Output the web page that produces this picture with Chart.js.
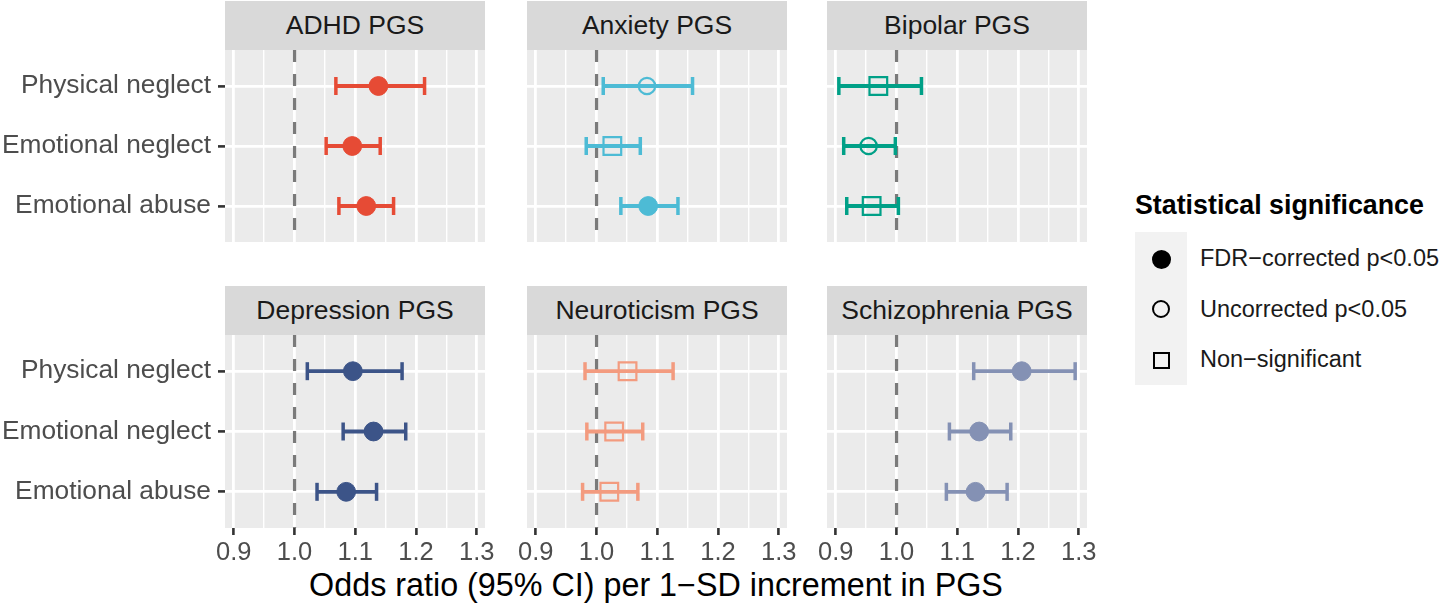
<!DOCTYPE html>
<html>
<head>
<meta charset="utf-8">
<script src="https://cdn.jsdelivr.net/npm/chart.js@4.4.0/dist/chart.umd.min.js"></script>
<style>
  body { margin: 0; background: #fff; font-family: "Liberation Sans", Arial, sans-serif; }
  #page { position: relative; width: 1456px; height: 614px; overflow: hidden; background: #fff; }
  #page canvas { position: absolute; }
  .strip { position: absolute; height: 49px; line-height: 49px; background: #D9D9D9; color: #1A1A1A;
           font-size: 26.5px; text-align: center; white-space: nowrap; }
  .xtitle { position: absolute; left: 225px; width: 862px; top: 567px; line-height: 36px; font-size: 32.3px;
            color: #000; text-align: center; white-space: nowrap; }
  .legtitle { position: absolute; left: 1135px; top: 189px; line-height: 32px; font-size: 26.8px;
              font-weight: bold; color: #000; white-space: nowrap; }
  .legkeys { position: absolute; left: 1135px; top: 232px; width: 52px; height: 153px; background: #F2F2F2; }
  .sym { position: absolute; box-sizing: border-box; border: 2px solid #000; }
  .leglab { position: absolute; left: 1200px; line-height: 28px; font-size: 23.5px; color: #1A1A1A; white-space: nowrap; }
</style>
</head>
<body>
<div id="page">
  <div class="xtitle">Odds ratio (95% CI) per 1−SD increment in PGS</div>
  <div class="legtitle">Statistical significance</div>
  <div class="legkeys"></div>
  <div class="sym" style="left:1151.5px; top:249.5px; width:19px; height:19px; border-radius:50%; background:#000;"></div>
  <div class="sym" style="left:1152px; top:300px; width:18px; height:18px; border-radius:50%;"></div>
  <div class="sym" style="left:1152.5px; top:351.5px; width:17px; height:17px;"></div>
  <div class="leglab" style="top:244px;">FDR−corrected p&lt;0.05</div>
  <div class="leglab" style="top:295px;">Uncorrected p&lt;0.05</div>
  <div class="leglab" style="top:345px;">Non−significant</div>
</div>
<script>
// rows (top to bottom) and axis ticks
var conditions = ['Physical neglect', 'Emotional neglect', 'Emotional abuse'];
var xTicks = [0.9, 0.95, 1.0, 1.05, 1.1, 1.15, 1.2, 1.25, 1.3];
var xMajor = [0.9, 1.0, 1.1, 1.2, 1.3];
var xMin = 0.8855, xMax = 1.3135;
var refLine = 1.0;

// one set of arrays per PGS panel: odds ratio, CI bounds, significance
var adhdOR = [1.138, 1.095, 1.118];
var adhdLow = [1.068, 1.052, 1.073];
var adhdHigh = [1.214, 1.141, 1.163];
var adhdSig = ['FDR', 'FDR', 'FDR'];

var anxietyOR = [1.083, 1.026, 1.085];
var anxietyLow = [1.011, 0.983, 1.040];
var anxietyHigh = [1.158, 1.072, 1.134];
var anxietySig = ['UNC', 'NS', 'FDR'];

var bipolarOR = [0.970, 0.954, 0.959];
var bipolarLow = [0.905, 0.913, 0.918];
var bipolarHigh = [1.041, 0.998, 1.003];
var bipolarSig = ['NS', 'UNC', 'NS'];

var depressionOR = [1.096, 1.130, 1.085];
var depressionLow = [1.021, 1.080, 1.037];
var depressionHigh = [1.177, 1.183, 1.135];
var depressionSig = ['FDR', 'FDR', 'FDR'];

var neuroticismOR = [1.051, 1.029, 1.021];
var neuroticismLow = [0.981, 0.984, 0.977];
var neuroticismHigh = [1.126, 1.076, 1.068];
var neuroticismSig = ['NS', 'NS', 'NS'];

var schizOR = [1.206, 1.136, 1.130];
var schizLow = [1.127, 1.087, 1.082];
var schizHigh = [1.294, 1.188, 1.182];
var schizSig = ['FDR', 'FDR', 'FDR'];

Chart.defaults.font.family = '"Liberation Sans", Arial, sans-serif';

var colLefts = [225, 527, 827];
var rowTops = [50, 335];
var rowHeights = [192, 193];
var stripTops = [1, 286];
var panelWidth = 260;

var sigStyle = {
  FDR: { shape: 'circle', radius: 9.4, hollow: false, border: 1 },
  UNC: { shape: 'circle', radius: 8.2, hollow: true, border: 2.2 },
  NS: { shape: 'rect', radius: 12.5, hollow: true, border: 2.2 }
};

function isMajor(v) {
  return xMajor.some(function (m) { return Math.abs(m - v) < 1e-6; });
}

var panelBg = {
  id: 'panelBg',
  beforeDraw: function (chart) {
    var a = chart.chartArea;
    var ctx = chart.ctx;
    ctx.save();
    ctx.fillStyle = '#EBEBEB';
    ctx.fillRect(a.left, a.top, a.right - a.left, a.bottom - a.top);
    ctx.restore();
  }
};

function addStrip(title, col, row) {
  var div = document.createElement('div');
  div.className = 'strip';
  div.style.left = colLefts[col] + 'px';
  div.style.top = stripTops[row] + 'px';
  div.style.width = panelWidth + 'px';
  div.textContent = title;
  document.getElementById('page').appendChild(div);
}

function drawPanel(title, color, or, low, high, sig, col, row) {
  addStrip(title, col, row);

  var axisH = row === 1 ? 45 : 0;
  var canvas = document.createElement('canvas');
  var left = col === 0 ? 0 : colLefts[col] - 20;
  var width = col === 0 ? colLefts[0] + panelWidth + 20 : panelWidth + 40;
  var height = rowHeights[row] + axisH;
  canvas.width = width;
  canvas.height = height;
  canvas.style.left = left + 'px';
  canvas.style.top = rowTops[row] + 'px';
  canvas.style.width = width + 'px';
  canvas.style.height = height + 'px';
  document.getElementById('page').appendChild(canvas);

  var datasets = [];
  // dashed reference line at OR = 1
  datasets.push({
    type: 'line',
    data: [{ x: refLine, y: -0.6 }, { x: refLine, y: 2.6 }],
    borderColor: '#7A7A7A',
    borderWidth: 3.2,
    borderDash: [12, 12],
    pointRadius: 0,
    order: 3
  });
  // error bars with caps
  for (var i = 0; i < conditions.length; i++) {
    datasets.push({
      type: 'line',
      data: [{ x: low[i], y: i }, { x: high[i], y: i }],
      borderColor: color,
      borderWidth: 3.8,
      pointStyle: 'line',
      pointRotation: 90,
      pointRadius: 9,
      pointBorderWidth: 3.5,
      pointBorderColor: color,
      order: 2
    });
  }
  // point estimates
  datasets.push({
    type: 'scatter',
    data: or.map(function (v, k) { return { x: v, y: k }; }),
    pointStyle: sig.map(function (s) { return sigStyle[s].shape; }),
    pointRadius: sig.map(function (s) { return sigStyle[s].radius; }),
    pointBorderWidth: sig.map(function (s) { return sigStyle[s].border; }),
    pointBackgroundColor: sig.map(function (s) { return sigStyle[s].hollow ? 'rgba(0,0,0,0)' : color; }),
    pointBorderColor: color,
    order: 1
  });

  new Chart(canvas, {
    type: 'scatter',
    data: { datasets: datasets },
    plugins: [panelBg],
    options: {
      responsive: false,
      maintainAspectRatio: false,
      animation: false,
      devicePixelRatio: 1,
      events: [],
      layout: { autoPadding: false, padding: { left: col === 0 ? 0 : 20, right: 20, top: 0, bottom: 0 } },
      plugins: { legend: { display: false }, tooltip: { enabled: false } },
      scales: {
        x: {
          type: 'linear',
          min: xMin,
          max: xMax,
          afterBuildTicks: function (axis) {
            axis.ticks = xTicks.map(function (v) { return { value: v }; });
          },
          afterFit: function (axis) { axis.height = axisH; },
          ticks: {
            display: row === 1,
            autoSkip: false,
            maxRotation: 0,
            minRotation: 0,
            padding: 3,
            color: '#4D4D4D',
            font: { size: 25.5 },
            callback: function (v) { return isMajor(v) ? v.toFixed(1) : ''; }
          },
          grid: {
            color: '#FFFFFF',
            lineWidth: function (ctx) { return ctx.tick && isMajor(ctx.tick.value) ? 2.8 : 1.4; },
            drawTicks: row === 1,
            tickLength: 7,
            tickWidth: 2.6,
            tickColor: function (ctx) { return ctx.tick && isMajor(ctx.tick.value) ? '#333333' : 'rgba(0,0,0,0)'; }
          },
          border: { display: false }
        },
        y: {
          type: 'linear',
          min: -0.6,
          max: 2.6,
          reverse: true,
          afterBuildTicks: function (axis) {
            axis.ticks = conditions.map(function (c, k) { return { value: k }; });
          },
          afterFit: function (axis) {
            axis.width = col === 0 ? colLefts[0] : 0;
            axis.paddingTop = 0;
            axis.paddingBottom = 0;
          },
          ticks: {
            display: col === 0,
            padding: 7,
            color: '#4D4D4D',
            font: { size: 26.3 },
            callback: function (v) { return conditions[v]; }
          },
          grid: {
            color: '#FFFFFF',
            lineWidth: 2.8,
            drawTicks: col === 0,
            tickLength: 7,
            tickWidth: 2.6,
            tickColor: '#333333'
          },
          border: { display: false }
        }
      }
    }
  });
}

drawPanel('ADHD PGS', '#E64B35', adhdOR, adhdLow, adhdHigh, adhdSig, 0, 0);
drawPanel('Anxiety PGS', '#4DBBD5', anxietyOR, anxietyLow, anxietyHigh, anxietySig, 1, 0);
drawPanel('Bipolar PGS', '#00A087', bipolarOR, bipolarLow, bipolarHigh, bipolarSig, 2, 0);
drawPanel('Depression PGS', '#3C5488', depressionOR, depressionLow, depressionHigh, depressionSig, 0, 1);
drawPanel('Neuroticism PGS', '#F39B7F', neuroticismOR, neuroticismLow, neuroticismHigh, neuroticismSig, 1, 1);
drawPanel('Schizophrenia PGS', '#8491B4', schizOR, schizLow, schizHigh, schizSig, 2, 1);
</script>
</body>
</html>
